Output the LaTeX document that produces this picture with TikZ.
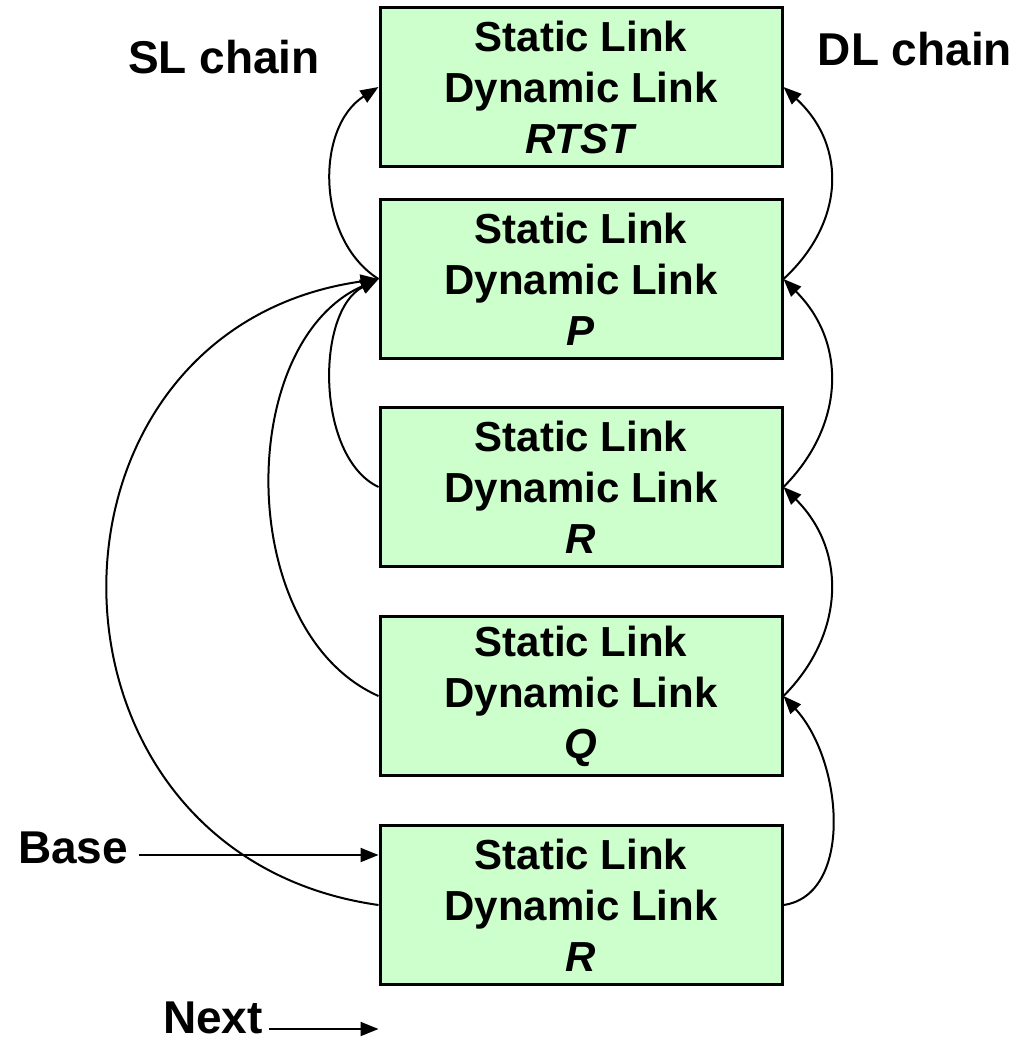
\documentclass[tikz,border=0pt]{standalone}
\usepackage{fontspec}
\setmainfont{Liberation Sans}
\usetikzlibrary{arrows.meta,calc}
\definecolor{framefill}{HTML}{CCFFCC}
\tikzset{
  frame/.style={draw=black, line width=3pt, fill=framefill, rectangle,
    minimum width=402pt, minimum height=159pt, inner sep=0pt, align=center,
    font=\fontsize{42}{51}\selectfont\bfseries},
  lbl/.style={inner sep=0pt, font=\fontsize{46}{55}\selectfont\bfseries},
  link/.style={line width=2pt, -{Triangle[length=18pt,width=14pt]}}
}
\begin{document}
\begin{tikzpicture}[x=1pt,y=-1pt]
  \useasboundingbox (0,0) rectangle (1029,1042);

  % activation records, top of the stack first
  \node[frame] (b1) at (581,87)  {Static Link\\Dynamic Link\\\textit{RTST}};
  \node[frame] (b2) at (581,279) {Static Link\\Dynamic Link\\\textit{P}};
  \node[frame] (b3) at (581,487) {Static Link\\Dynamic Link\\\textit{R}};
  \node[frame] (b4) at (581,696) {Static Link\\Dynamic Link\\\textit{Q}};
  \node[frame] (b5) at (581,905) {Static Link\\Dynamic Link\\\textit{R}};

  % labels
  \node[lbl, anchor=base] (sl) at (224,73) {SL chain};
  \node[lbl, anchor=base] (dl) at (915,65) {DL chain};
  \node[lbl, anchor=base west] (base) at (18,863) {Base};
  \node[lbl, anchor=base west] (next) at (163,1033) {Next};

  % static link chain (left)
  \draw[link] (b2.west) .. controls +(-63,-40) and +(-63,40) .. (b1.west);
  \draw[link] (b3.west) .. controls +(-63,-30) and +(-63,32) .. (b2.west);
  \draw[link] (b4.west) .. controls +(-144,-64) and +(-144,64) .. (b2.west);
  \draw[link] (b5.west) .. controls +(-360,-51) and +(-360,51) .. (b2.west);

  % dynamic link chain (right)
  \draw[link] (b2.east) .. controls +(60,-55) and +(65,60) .. (b1.east);
  \draw[link] (b3.east) .. controls +(60,-60) and +(65,65) .. (b2.east);
  \draw[link] (b4.east) .. controls +(60,-60) and +(65,65) .. (b3.east);
  \draw[link] (b5.east) .. controls +(70,-10) and +(60,65) .. (b4.east);

  % base and next pointers
  \coordinate (basetip) at ($(b5.north west)+(0,31)$);
  \coordinate (nexttip) at ($(b5.south west)+(0,43)$);
  \draw[link] ($(basetip -| base.east)+(11,0)$) -- (basetip);
  \draw[link] ($(nexttip -| next.east)+(6,0)$) -- (nexttip);
\end{tikzpicture}
\end{document}
